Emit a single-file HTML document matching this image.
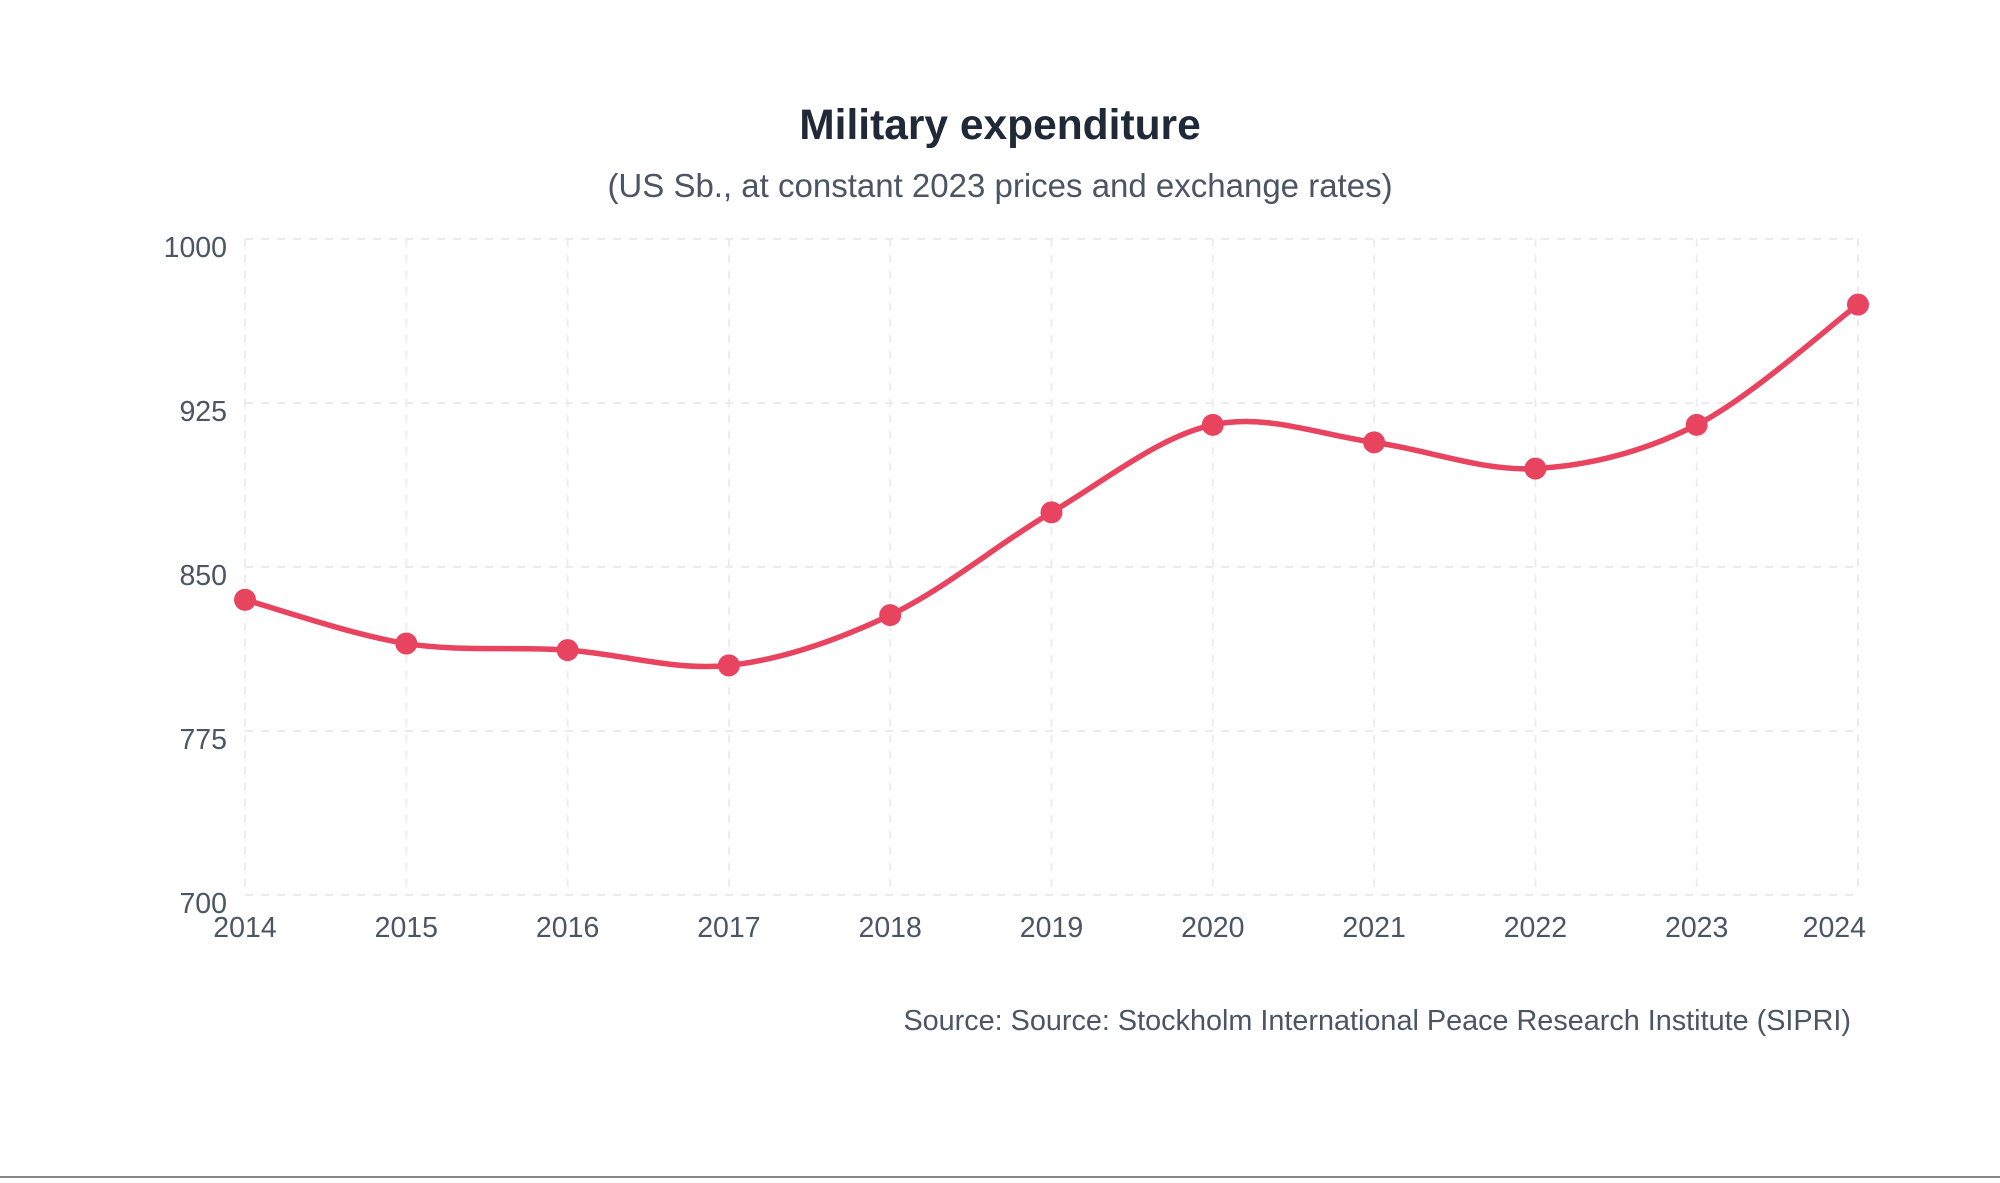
<!DOCTYPE html>
<html><head><meta charset="utf-8"><style>
html,body{margin:0;padding:0;background:#fff;}
body{width:2000px;height:1178px;overflow:hidden;position:relative;font-family:"Liberation Sans",Arial,sans-serif;}
</style></head><body>
<svg id="chart" width="2000" height="1178" viewBox="0 0 2000 1178" xmlns="http://www.w3.org/2000/svg">
<text x="1000" y="139" text-anchor="middle" font-family="Liberation Sans, Arial, sans-serif" font-weight="bold" font-size="42.5" fill="#1f2937">Military expenditure</text>
<text x="1000" y="197" text-anchor="middle" font-family="Liberation Sans, Arial, sans-serif" font-size="33" fill="#4b5563">(US Sb., at constant 2023 prices and exchange rates)</text>
<g id="grid"></g>
<g id="yaxis"></g>
<g id="xaxis"></g>
<g id="series"></g>
<text x="1851" y="1030" text-anchor="end" font-family="Liberation Sans, Arial, sans-serif" font-size="28.8" fill="#4b5563">Source: Source: Stockholm International Peace Research Institute (SIPRI)</text>
<line x1="0" y1="1177" x2="2000" y2="1177" stroke="#888" stroke-width="2"/>
</svg>
<script>
const years = [2014,2015,2016,2017,2018,2019,2020,2021,2022,2023,2024];
const values = [835,815,812,805,828,875,915,907,895,915,970];
const yTicks = [700,775,850,925,1000];
const yMin = 700, yMax = 1000;
const X0 = 245, X1 = 1858, Y0 = 895, Y1 = 239;
const NS = "http://www.w3.org/2000/svg";
function xs(i){ return X0 + (X1 - X0) * i / (years.length - 1); }
function ys(v){ return Y0 - (Y0 - Y1) * (v - yMin) / (yMax - yMin); }
function mk(tag, attrs, parent){ const e = document.createElementNS(NS, tag); for (const k in attrs) e.setAttribute(k, attrs[k]); parent.appendChild(e); return e; }
const grid = document.getElementById('grid'), ya = document.getElementById('yaxis'), xa = document.getElementById('xaxis'), ser = document.getElementById('series');
yTicks.forEach(t => {
  const l = mk('line', {x1: X0, x2: X1, y1: ys(t), y2: ys(t), stroke: '#ececef', 'stroke-width': 2, 'stroke-dasharray': '8 8'}, grid);
  
  
  const tx = mk('text', {x: 227, y: ys(t) + 18, 'text-anchor': 'end', 'font-size': 28.5, fill: '#4b5563', 'font-family': 'Liberation Sans, Arial, sans-serif'}, ya);
  tx.textContent = t;
  
  
});
years.forEach((yr, i) => {
  const l = mk('line', {x1: xs(i), x2: xs(i), y1: Y1, y2: Y0, stroke: '#ececef', 'stroke-width': 2, 'stroke-dasharray': '8 8'}, grid);
  
  
  let x = xs(i), anchor = 'middle';
  if (i === years.length - 1) { anchor = 'end'; x = xs(i) + 8; }
  const tx = mk('text', {x: x, y: 937, 'text-anchor': anchor, 'font-size': 28.5, fill: '#4b5563', 'font-family': 'Liberation Sans, Arial, sans-serif'}, xa);
  tx.textContent = yr;
  
  
});
const pts = values.map((v, i) => [xs(i), ys(v)]);
let d = 'M' + pts[0][0] + ',' + pts[0][1];
for (let i = 0; i < pts.length - 1; i++) {
  const p0 = pts[Math.max(0, i - 1)], p1 = pts[i], p2 = pts[i + 1], p3 = pts[Math.min(pts.length - 1, i + 2)];
  const c1 = [p1[0] + (p2[0] - p0[0]) / 6, p1[1] + (p2[1] - p0[1]) / 6];
  const c2 = [p2[0] - (p3[0] - p1[0]) / 6, p2[1] - (p3[1] - p1[1]) / 6];
  d += ' C' + c1[0] + ',' + c1[1] + ' ' + c2[0] + ',' + c2[1] + ' ' + p2[0] + ',' + p2[1];
}
const path = mk('path', {d: d, fill: 'none', stroke: '#e8435f', 'stroke-width': 5.5, 'stroke-linecap': 'round'}, ser);


pts.forEach(p => {
  const c = mk('circle', {cx: p[0], cy: p[1], r: 11, fill: '#e8435f'}, ser);
  
  
});
</script>
</body></html>
